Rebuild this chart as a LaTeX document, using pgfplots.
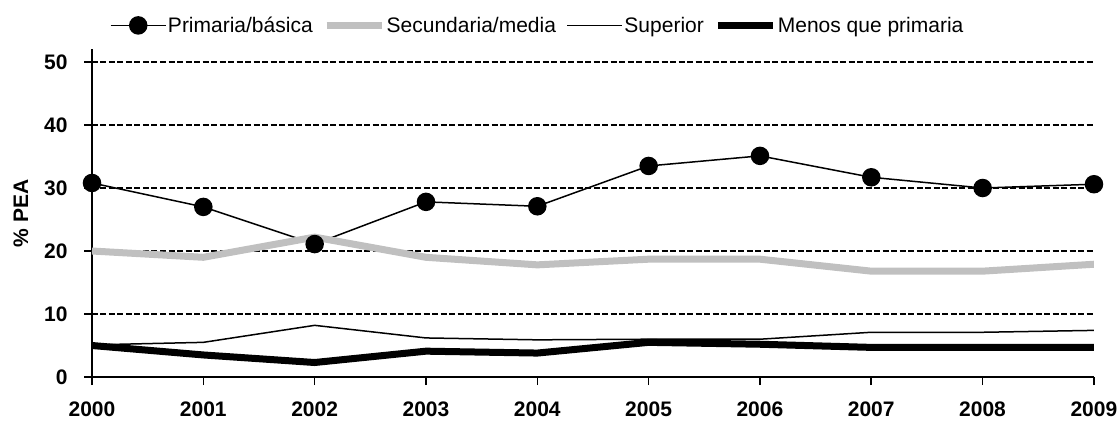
\documentclass[border=0pt]{standalone}
\usepackage{fontspec}
\setmainfont{Liberation Sans}
\usepackage{pgfplots}
\pgfplotsset{compat=1.18}
\definecolor{sgray}{RGB}{192,192,192}
\begin{document}
\begin{tikzpicture}
\useasboundingbox (-92pt,-44pt) rectangle (1026pt,377pt);
\begin{axis}[
  scale only axis, width=1002pt, height=327.6pt,
  xmin=2000, xmax=2009, ymin=0, ymax=52,
  separate axis lines,
  axis x line=bottom, axis y line=left,
  axis line style={-, black, line width=2pt},
  xtick={2000,...,2009}, ytick={0,10,...,50},
  xticklabel style={/pgf/number format/1000 sep={}, yshift=-13pt},
  yticklabel shift=13pt,
  tick style={black, line width=1.5pt}, tick align=outside, major tick length=8pt,
  ymajorgrids, grid style={black, line width=1.6pt, dash pattern=on 6pt off 2.5pt},
  ticklabel style={font=\fontsize{21}{24}\selectfont\bfseries},
  /pgf/number format/assume math mode=true,
  ylabel={\% PEA}, ylabel style={font=\fontsize{21}{24}\selectfont\bfseries, at={(axis description cs:-0.071,0.5)}, anchor=center},
  legend columns=-1,
  legend style={draw=none, fill=none, at={(0.4446,1)}, anchor=center, yshift=24pt,
    font=\fontsize{21}{24}\selectfont, nodes={inner sep=1.5pt},
    /tikz/every even column/.append style={column sep=9pt}},
  legend image code/.code={\draw[mark repeat=2,mark phase=2,#1] plot coordinates {(0pt,0pt) (27.5pt,0pt) (55pt,0pt)};},
]
\addplot[black, line width=1.5pt, mark=*, mark size=8.5pt, mark options={fill=black}] coordinates {
(2000,30.8) (2001,27.0) (2002,21.1) (2003,27.8) (2004,27.1) (2005,33.5) (2006,35.1) (2007,31.7) (2008,30.0) (2009,30.6)};
\addlegendentry{Primaria/básica}
\addplot[sgray, line width=7pt] coordinates {
(2000,20.0) (2001,19.0) (2002,22.2) (2003,19.0) (2004,17.8) (2005,18.7) (2006,18.7) (2007,16.8) (2008,16.8) (2009,17.9)};
\addlegendentry{Secundaria/media}
\addplot[black, line width=1.5pt] coordinates {
(2000,5.1) (2001,5.5) (2002,8.2) (2003,6.2) (2004,5.9) (2005,6.0) (2006,6.0) (2007,7.1) (2008,7.1) (2009,7.4)};
\addlegendentry{Superior}
\addplot[black, line width=7pt] coordinates {
(2000,5.0) (2001,3.5) (2002,2.3) (2003,4.1) (2004,3.8) (2005,5.5) (2006,5.2) (2007,4.7) (2008,4.7) (2009,4.7)};
\addlegendentry{Menos que primaria}
\end{axis}
\end{tikzpicture}
\end{document}
